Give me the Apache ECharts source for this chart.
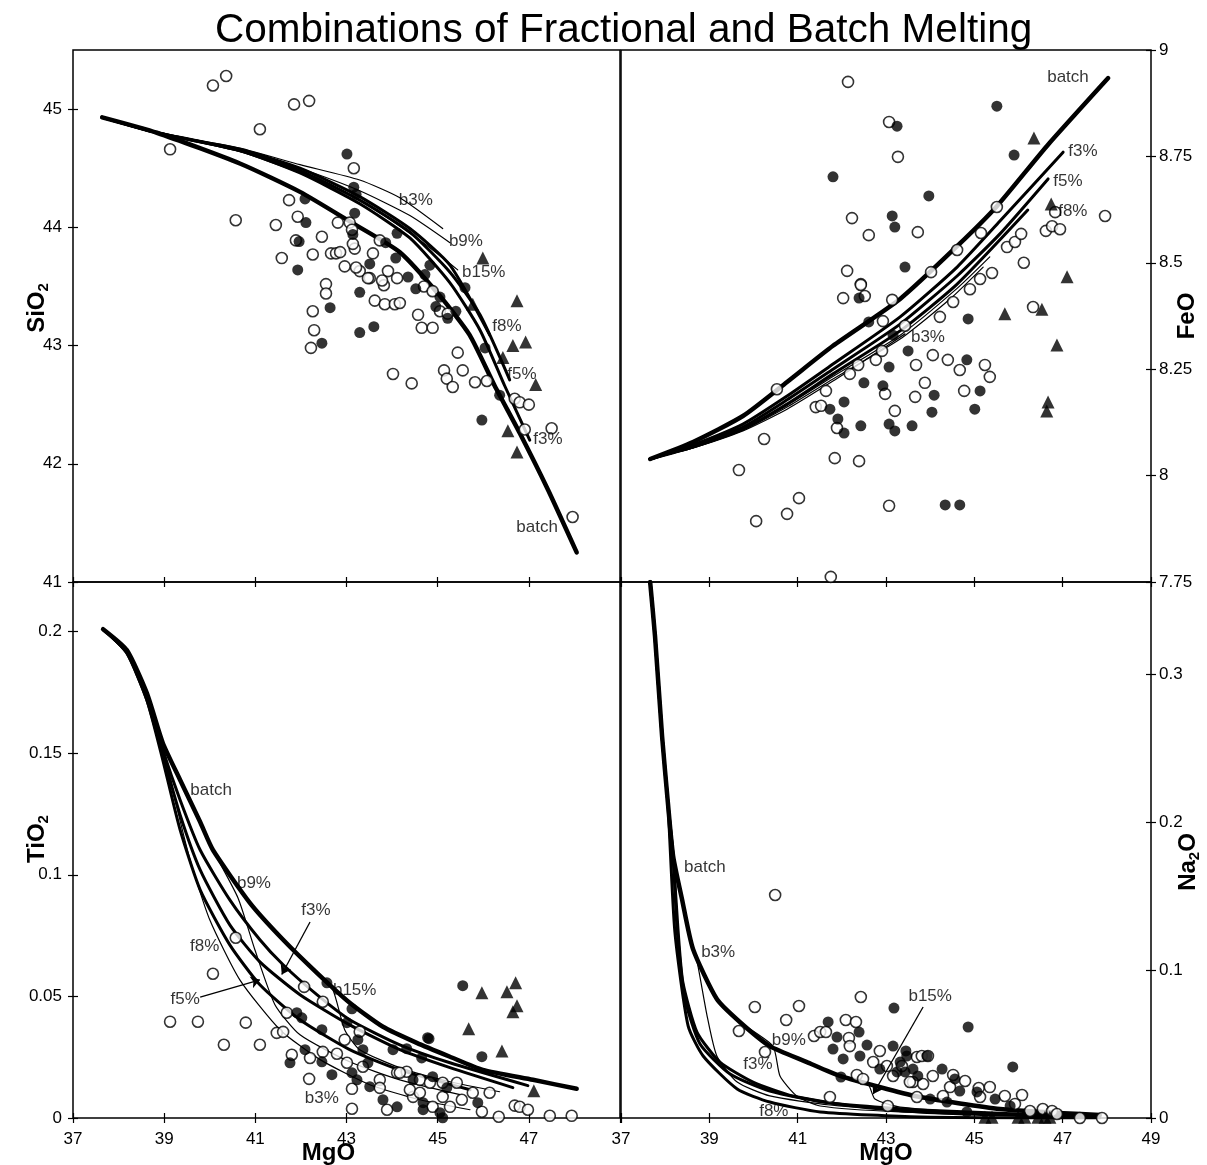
<!DOCTYPE html>
<html>
<head>
<meta charset="utf-8">
<script src="https://cdn.jsdelivr.net/npm/echarts@6/dist/echarts.min.js"></script>
<style>
html,body{margin:0;padding:0;background:#fff;}
#chart{width:1207px;height:1165px;}
</style>
</head>
<body>
<div id="chart"></div>
<script>
// ---------- tick / axis values ----------
const mgoTicks = [37, 39, 41, 43, 45, 47, 49];
const sio2Ticks = [41, 42, 43, 44, 45];
const feoTicks = [7.75, 8, 8.25, 8.5, 8.75, 9];
const tio2Ticks = [0, 0.05, 0.1, 0.15, 0.2];
const na2oTicks = [0, 0.1, 0.2, 0.3];
const sio2Range = [41, 45.5];
const feoRange = [7.75, 9];
const tio2Range = [0, 0.2204];
const na2oRange = [0, 0.3622];

// ---------- SiO2 vs MgO (model curves) ----------
const sio2Batch = [[37.64,44.93],[38.84,44.80],[40.66,44.54],[41.98,44.30],[43.07,44.05],[44.17,43.79],[45.05,43.42],[45.70,43.09],[46.25,42.66],[46.80,42.26],[47.42,41.78],[48.05,41.25]];
const sio2F3 = [[37.64,44.93],[38.84,44.80],[40.66,44.65],[41.98,44.46],[43.29,44.20],[44.39,43.91],[45.27,43.53],[45.93,43.13],[46.47,42.66],[47.02,42.20]];
const sio2F5 = [[37.64,44.93],[38.84,44.80],[40.66,44.65],[41.98,44.48],[43.29,44.23],[44.39,43.96],[45.27,43.62],[45.93,43.26],[46.58,42.71]];
const sio2F8 = [[37.64,44.93],[38.84,44.80],[40.66,44.66],[41.98,44.50],[43.29,44.26],[44.39,43.99],[45.27,43.68],[46.14,43.09]];
const sio2B3 = [[37.64,44.93],[38.84,44.80],[40.66,44.67],[41.98,44.53],[43.29,44.40],[44.17,44.25],[45.11,43.99]];
const sio2B9 = [[37.64,44.93],[38.84,44.80],[40.66,44.66],[41.98,44.50],[43.29,44.31],[44.39,44.10],[45.27,43.87]];
const sio2B15 = [[37.64,44.93],[38.84,44.80],[40.66,44.64],[41.98,44.46],[43.29,44.23],[44.61,43.89],[45.44,43.64]];
// SiO2 samples
const sio2Open = [[40.07,45.20],[40.36,45.28],[41.10,44.83],[41.85,45.04],[42.18,45.07],[39.13,44.66],[40.57,44.06],[41.45,44.02],[43.16,44.50],[41.74,44.23],[41.93,44.09],[41.89,43.89],[41.58,43.74],[42.26,43.77],[42.46,43.92],[42.66,43.78],[42.55,43.52],[42.55,43.44],[42.26,43.29],[42.29,43.13],[42.22,42.98],[42.77,43.78],[42.96,43.67],[43.18,43.82],[43.29,43.63],[43.07,44.04],[43.51,43.57],[43.82,43.51],[43.62,43.38],[43.84,43.35],[44.06,43.35],[44.17,43.36],[44.57,43.26],[44.65,43.15],[44.89,43.15],[45.05,43.29],[45.22,43.27],[44.02,42.76],[44.43,42.68],[45.14,42.79],[45.20,42.72],[45.33,42.65],[45.44,42.94],[45.55,42.79],[45.82,42.69],[46.08,42.70],[46.69,42.55],[46.80,42.52],[47.00,42.50],[46.91,42.29],[47.50,42.30],[47.96,41.55],[43.73,43.89],[44.70,43.50],[44.89,43.46],[42.81,44.04],[43.12,43.98],[43.14,43.86],[42.86,43.79],[43.58,43.78],[43.21,43.66],[43.91,43.63],[44.11,43.57],[43.47,43.57],[43.78,43.55]];
const sio2Filled = [[43.01,44.62],[42.09,44.24],[42.11,44.04],[41.96,43.88],[41.93,43.64],[42.64,43.32],[42.46,43.02],[43.29,43.11],[43.60,43.16],[43.16,44.34],[43.21,44.28],[43.18,44.12],[43.14,43.94],[43.29,43.45],[43.51,43.69],[43.86,43.87],[44.08,43.74],[44.35,43.58],[44.52,43.48],[44.72,43.60],[44.83,43.68],[44.96,43.33],[45.22,43.23],[45.40,43.29],[45.60,43.49],[45.97,42.37],[46.04,42.98],[46.36,42.58],[45.05,43.41],[44.11,43.95]];
const sio2Tri = [[45.99,43.74],[46.74,43.38],[45.77,43.35],[46.65,43.00],[46.93,43.03],[46.43,42.90],[47.15,42.67],[46.54,42.28],[46.74,42.10]];
const sio2Notes = [['b3%',44.52,44.23],['b9%',45.62,43.88],['b15%',46.01,43.62],['f8%',46.52,43.16],['f5%',46.85,42.76],['f3%',47.42,42.21],['batch',47.18,41.46]];

// ---------- FeO vs MgO ----------
const feoBatch = [[37.66,8.039],[38.63,8.079],[39.76,8.140],[40.76,8.220],[41.80,8.305],[43.32,8.415],[44.61,8.539],[45.51,8.633],[46.64,8.774],[48.03,8.934]];
const feoF3 = [[37.66,8.039],[38.63,8.072],[39.76,8.121],[40.76,8.187],[41.80,8.262],[43.32,8.373],[44.61,8.490],[45.58,8.598],[47.01,8.760]];
const feoF5 = [[37.66,8.039],[38.63,8.070],[39.76,8.114],[40.76,8.178],[41.80,8.250],[43.32,8.356],[44.61,8.469],[45.58,8.568],[46.67,8.697]];
const feoF8 = [[37.66,8.039],[38.63,8.067],[39.76,8.109],[40.76,8.168],[41.80,8.239],[43.32,8.340],[44.61,8.450],[46.21,8.624]];
const feoB3 = [[37.66,8.039],[38.63,8.065],[39.76,8.105],[40.76,8.156],[41.80,8.222],[42.64,8.279],[43.43,8.333]];
const feoB9 = [[37.66,8.039],[38.63,8.065],[39.76,8.107],[40.76,8.161],[41.80,8.227],[43.32,8.321],[44.45,8.415],[45.20,8.490]];
const feoB15 = [[37.66,8.039],[38.63,8.066],[39.76,8.110],[40.76,8.165],[41.80,8.233],[43.32,8.330],[44.61,8.440],[45.35,8.514]];
const feoOpen = [[42.14,8.925],[43.07,8.831],[43.27,8.749],[42.23,8.605],[42.61,8.565],[43.72,8.572],[42.12,8.481],[42.43,8.450],[45.51,8.631],[45.15,8.570],[44.61,8.530],[44.02,8.478],[44.52,8.408],[44.90,8.438],[45.13,8.462],[45.40,8.476],[45.74,8.537],[45.92,8.549],[46.06,8.568],[46.12,8.500],[46.62,8.575],[46.76,8.586],[46.94,8.579],[46.83,8.619],[47.96,8.610],[46.33,8.396],[40.53,8.203],[40.24,8.086],[39.67,8.013],[40.06,7.893],[40.76,7.910],[41.03,7.947],[41.84,8.041],[42.39,8.034],[43.07,7.929],[41.75,7.762],[41.41,8.161],[41.53,8.164],[41.64,8.199],[41.89,8.112],[42.18,8.239],[42.37,8.260],[42.77,8.272],[42.91,8.293],[42.98,8.192],[43.20,8.152],[43.68,8.260],[43.66,8.185],[42.43,8.448],[42.03,8.417],[42.52,8.422],[43.14,8.413],[43.43,8.352],[42.93,8.363],[44.06,8.283],[44.40,8.272],[44.67,8.248],[45.24,8.260],[45.35,8.232],[44.77,8.199],[44.22,8.373],[43.88,8.218]];
const feoFilled = [[43.25,8.821],[41.80,8.702],[43.14,8.610],[43.20,8.584],[43.43,8.490],[45.51,8.868],[45.90,8.753],[43.97,8.657],[44.86,8.368],[42.39,8.417],[42.61,8.361],[43.16,8.330],[43.50,8.293],[43.07,8.255],[42.50,8.218],[42.93,8.211],[42.05,8.173],[41.73,8.156],[41.91,8.133],[42.05,8.100],[42.43,8.117],[43.07,8.121],[43.20,8.105],[43.59,8.117],[44.34,7.931],[44.67,7.931],[44.09,8.189],[44.04,8.149],[45.01,8.156],[45.13,8.199],[44.83,8.272]];
const feoTri = [[46.35,8.793],[46.74,8.638],[47.10,8.467],[46.53,8.391],[45.69,8.380],[46.87,8.307],[46.67,8.173],[46.64,8.152]];
const feoNotes = [['batch',47.12,8.937],['f3%',47.46,8.763],['f5%',47.12,8.692],['f8%',47.23,8.622],['b3%',43.95,8.326]];

// ---------- TiO2 vs MgO ----------
const tioBatch = [[37.66,0.2010],[38.18,0.1924],[38.62,0.1747],[38.97,0.1542],[39.35,0.1390],[39.79,0.1217],[40.07,0.1102],[40.88,0.0885],[41.61,0.0733],[42.35,0.0597],[43.07,0.0474],[43.80,0.0375],[44.54,0.0309],[45.27,0.0252],[45.99,0.0198],[47.09,0.0157],[48.05,0.0120]];
const tioF3 = [[37.66,0.2010],[38.18,0.1916],[38.62,0.1731],[38.97,0.1513],[39.35,0.1308],[39.79,0.1102],[40.44,0.0897],[41.10,0.0733],[41.61,0.0630],[42.35,0.0507],[43.07,0.0404],[44.17,0.0301],[45.27,0.0227],[46.98,0.0133]];
const tioF5 = [[37.66,0.2010],[38.18,0.1912],[38.62,0.1719],[38.97,0.1493],[39.35,0.1246],[39.79,0.1020],[40.44,0.0794],[41.10,0.0642],[41.98,0.0507],[43.07,0.0383],[44.17,0.0281],[45.27,0.0207],[46.65,0.0125]];
const tioF8 = [[37.66,0.2010],[38.18,0.1912],[38.62,0.1719],[38.97,0.1472],[39.35,0.1185],[39.79,0.0938],[40.44,0.0712],[41.10,0.0548],[41.98,0.0404],[43.07,0.0281],[44.17,0.0198],[45.71,0.0116]];
const tioB3 = [[37.66,0.2010],[38.18,0.1924],[38.62,0.1747],[38.97,0.1534],[39.24,0.1308],[39.57,0.1061],[40.00,0.0815],[40.66,0.0568],[41.54,0.0363],[42.42,0.0240],[43.51,0.0137],[44.61,0.0075],[45.71,0.0034]];
const tioB9 = [[37.66,0.2010],[38.18,0.1924],[38.62,0.1747],[38.97,0.1542],[39.35,0.1390],[39.79,0.1217],[40.07,0.1102],[40.62,0.0905],[40.99,0.0692],[41.43,0.0466],[41.98,0.0342],[43.07,0.0231],[44.17,0.0157],[45.49,0.0096]];
const tioB15 = [[37.66,0.2010],[38.18,0.1924],[38.62,0.1747],[38.97,0.1542],[39.35,0.1390],[39.79,0.1217],[40.07,0.1102],[40.88,0.0885],[41.61,0.0733],[42.35,0.0597],[42.70,0.0527],[42.96,0.0363],[43.29,0.0281],[44.17,0.0207],[45.27,0.0149],[46.36,0.0108]];
const tioOpen = [[40.57,0.0741],[40.07,0.0593],[39.74,0.0396],[39.13,0.0396],[40.31,0.0301],[40.79,0.0392],[41.10,0.0301],[41.47,0.0350],[41.61,0.0354],[42.07,0.0539],[42.48,0.0478],[41.69,0.0433],[42.18,0.0161],[43.12,0.0038],[43.12,0.0120],[43.29,0.0355],[42.96,0.0322],[41.80,0.0260],[42.20,0.0247],[42.48,0.0272],[42.79,0.0264],[43.01,0.0227],[43.36,0.0211],[43.73,0.0157],[43.73,0.0124],[44.11,0.0186],[44.32,0.0190],[44.46,0.0087],[44.61,0.0157],[45.11,0.0145],[45.11,0.0087],[44.89,0.0046],[43.89,0.0034],[44.17,0.0186],[44.83,0.0145],[45.42,0.0145],[45.53,0.0075],[45.27,0.0046],[45.77,0.0104],[46.14,0.0104],[45.97,0.0026],[46.34,0.0005],[46.69,0.0051],[46.80,0.0046],[46.98,0.0034],[47.46,0.0009],[47.94,0.0009],[44.39,0.0116],[44.61,0.0104]];
const tioFilled = [[42.57,0.0556],[43.12,0.0449],[41.91,0.0433],[42.02,0.0412],[43.01,0.0392],[43.25,0.0322],[42.46,0.0363],[42.09,0.0281],[41.76,0.0227],[42.46,0.0231],[42.68,0.0178],[43.12,0.0186],[43.47,0.0227],[43.23,0.0157],[43.51,0.0129],[43.80,0.0075],[44.11,0.0046],[44.68,0.0063],[45.05,0.0022],[45.11,0.0001],[44.02,0.0281],[44.32,0.0285],[44.65,0.0247],[44.78,0.0330],[44.46,0.0157],[43.36,0.0281],[45.55,0.0544],[44.81,0.0326],[45.97,0.0252],[44.89,0.0170],[45.20,0.0124],[45.88,0.0063],[44.68,0.0034]];
const tioTri = [[45.97,0.0515],[46.52,0.0519],[46.71,0.0556],[46.65,0.0437],[46.74,0.0462],[45.68,0.0367],[46.41,0.0276],[47.11,0.0112]];
const tioNotes = [['batch',40.03,0.1349],['b9%',40.97,0.0963],['f3%',42.33,0.0856],['f8%',39.89,0.0704],['f5%',39.46,0.0486],['b15%',43.18,0.0523],['b3%',42.46,0.0083]];
const tioArrows = [[[42.20,0.0806],[41.58,0.0590]],[[39.79,0.0497],[41.10,0.0568]]];

// ---------- Na2O vs MgO ----------
const naBatch = [[37.66,0.3622],[37.77,0.3257],[37.93,0.2581],[38.06,0.2135],[38.18,0.1770],[38.38,0.1480],[38.63,0.1142],[39.17,0.0804],[39.69,0.0649],[40.37,0.0486],[41.21,0.0378],[41.96,0.0284],[43.02,0.0196],[43.77,0.0142],[45.58,0.0061],[47.84,0.0020]];
const naF3 = [[37.66,0.3622],[37.77,0.3257],[37.93,0.2581],[38.06,0.2135],[38.18,0.1770],[38.29,0.1277],[38.40,0.0919],[38.72,0.0581],[39.24,0.0378],[39.99,0.0243],[40.89,0.0149],[42.25,0.0081],[43.77,0.0041],[45.58,0.0020],[47.84,0.0007]];
const naF5 = [[37.66,0.3622],[37.77,0.3257],[37.93,0.2581],[38.06,0.2135],[38.18,0.1770],[38.27,0.1277],[38.45,0.0804],[38.79,0.0500],[39.47,0.0297],[40.37,0.0182],[41.73,0.0101],[43.77,0.0054],[47.84,0.0007]];
const naF8 = [[37.66,0.3622],[37.77,0.3257],[37.93,0.2581],[38.06,0.2135],[38.22,0.1257],[38.52,0.0622],[38.86,0.0419],[39.63,0.0196],[40.37,0.0108],[41.51,0.0041],[43.77,0.0007],[47.84,0.0000]];
const naB3 = [[37.66,0.3622],[37.77,0.3257],[37.93,0.2581],[38.06,0.2135],[38.18,0.1770],[38.38,0.1480],[38.63,0.1142],[38.72,0.1061],[38.95,0.0689],[39.17,0.0419],[39.63,0.0243],[40.37,0.0149],[41.73,0.0088],[43.77,0.0047],[46.71,0.0020]];
const naB9 = [[37.66,0.3622],[37.77,0.3257],[37.93,0.2581],[38.06,0.2135],[38.18,0.1770],[38.38,0.1480],[38.63,0.1142],[39.17,0.0804],[39.69,0.0649],[40.44,0.0486],[40.60,0.0284],[40.98,0.0149],[41.51,0.0081],[43.32,0.0041],[46.71,0.0014]];
const naB15 = [[37.66,0.3622],[37.77,0.3257],[37.93,0.2581],[38.06,0.2135],[38.18,0.1770],[38.38,0.1480],[38.63,0.1142],[39.17,0.0804],[39.69,0.0649],[40.37,0.0486],[41.21,0.0378],[41.96,0.0284],[42.59,0.0230],[42.75,0.0128],[43.32,0.0074],[45.58,0.0027],[47.39,0.0014]];
const naOpen = [[40.49,0.1507],[40.03,0.0750],[39.67,0.0588],[40.26,0.0446],[40.74,0.0662],[41.03,0.0757],[41.37,0.0554],[41.51,0.0581],[41.64,0.0581],[42.09,0.0662],[42.32,0.0649],[42.43,0.0818],[42.16,0.0541],[42.18,0.0486],[42.34,0.0291],[42.48,0.0264],[41.73,0.0142],[43.04,0.0081],[42.86,0.0453],[42.71,0.0378],[43.02,0.0351],[43.16,0.0284],[43.61,0.0243],[43.70,0.0412],[43.36,0.0351],[43.81,0.0419],[43.95,0.0419],[44.06,0.0284],[44.52,0.0291],[44.45,0.0209],[44.79,0.0250],[45.10,0.0203],[45.35,0.0209],[45.13,0.0142],[45.69,0.0149],[46.08,0.0155],[45.92,0.0095],[46.26,0.0047],[46.55,0.0061],[46.76,0.0047],[46.87,0.0027],[47.39,0.0000],[47.89,0.0000],[43.70,0.0142],[44.29,0.0149],[43.54,0.0243],[43.84,0.0230]];
const naFilled = [[41.69,0.0649],[41.89,0.0547],[41.80,0.0466],[42.03,0.0399],[42.39,0.0581],[42.57,0.0493],[42.41,0.0419],[43.18,0.0743],[43.16,0.0486],[43.45,0.0453],[42.86,0.0331],[43.25,0.0311],[43.43,0.0311],[43.61,0.0331],[43.47,0.0419],[41.98,0.0277],[44.86,0.0615],[45.87,0.0345],[43.93,0.0419],[44.27,0.0331],[44.56,0.0264],[44.67,0.0182],[45.06,0.0176],[45.47,0.0128],[45.81,0.0081],[43.32,0.0378],[43.72,0.0284],[44.00,0.0128],[44.38,0.0108],[44.83,0.0041]];
const naTri = [[45.24,0.0005],[45.40,0.0005],[45.99,0.0005],[46.14,0.0005],[46.44,0.0005],[46.60,0.0005],[46.71,0.0005]];
const naNotes = [['batch',38.90,0.1696],['b3%',39.20,0.1122],['b9%',40.80,0.0527],['f3%',40.10,0.0365],['f8%',40.46,0.0047],['b15%',44.00,0.0824]];
const naArrows = [[[43.84,0.0750],[42.71,0.0162]]];

// ---------- build chart ----------
const FONT = '"Liberation Sans", Arial, Helvetica, sans-serif';
const BLACK = '#000';

const grids = [
  {left:73, top:50, width:547, height:532},
  {left:621, top:50, width:530, height:532},
  {left:73, top:582, width:547, height:536},
  {left:621, top:582, width:530, height:536}
].map(g => Object.assign({show:true, borderColor:BLACK, borderWidth:1.5, backgroundColor:'transparent',
  containLabel:false, outerBoundsMode:'none'}, g));

const richStyles = {
  n:{fontSize:24, fontWeight:'bold', fontFamily:FONT, color:BLACK},
  s:{fontSize:15, fontWeight:'bold', fontFamily:FONT, color:BLACK, padding:[12,0,0,0]}
};
const inList = (list, v) => list.some(t => Math.abs(t - v) < 1e-9);
const trim = v => String(parseFloat(v.toFixed(4)));

function xAxisPair(gi, showLabels, hideMax, name, namePad){
  const base = {
    type:'value', gridIndex:gi, position:'bottom', min:mgoTicks[0], max:mgoTicks[mgoTicks.length-1], interval:2,
    axisLine:{show:false}, splitLine:{show:false}
  };
  const outer = Object.assign({}, base, {
    axisTick:{show:true, inside:false, length:5, lineStyle:{color:BLACK, width:1.2}},
    axisLabel:{show:showLabels, color:BLACK, fontSize:17, fontFamily:FONT, margin:13,
      formatter: v => (hideMax && v === mgoTicks[mgoTicks.length-1]) ? '' : String(v)},
    name: name || '', nameLocation:'middle', nameGap:23, nameMoveOverlap:false,
    nameTextStyle:{fontSize:24, fontWeight:'bold', fontFamily:FONT, color:BLACK, padding:namePad || 0}
  });
  const inner = Object.assign({}, base, {
    axisTick:{show:true, inside:true, length:5, lineStyle:{color:BLACK, width:1.2}},
    axisLabel:{show:false}
  });
  return [outer, inner];
}
function yAxisPair(gi, pos, range, ticks, name, namePad){
  const base = {
    type:'value', gridIndex:gi, position:pos, min:range[0], max:range[1],
    axisLine:{show:false}, splitLine:{show:false}
  };
  const outer = Object.assign({}, base, {
    axisTick:{show:true, inside:false, length:5, customValues:ticks, lineStyle:{color:BLACK, width:1.2}},
    axisLabel:{show:true, color:BLACK, fontSize:17, fontFamily:FONT, margin:pos === 'left' ? 11 : 8, customValues:ticks,
      formatter: v => inList(ticks, v) ? trim(v) : ''},
    name:name, nameLocation:'middle', nameGap:pos === 'left' ? 22 : 24, nameRotate:90, nameMoveOverlap:false,
    nameTextStyle:{rich:richStyles, padding:namePad || 0}
  });
  const inner = Object.assign({}, base, {
    axisTick:{show:true, inside:true, length:5, customValues:ticks, lineStyle:{color:BLACK, width:1.2}},
    axisLabel:{show:false}
  });
  return [outer, inner];
}

const xAxes = [].concat(
  xAxisPair(0, false, false),
  xAxisPair(1, false, false),
  xAxisPair(2, true, true, 'MgO', [0, 36, 0, 0]),
  xAxisPair(3, true, false, 'MgO')
);
const yAxes = [].concat(
  yAxisPair(0, 'left', sio2Range, sio2Ticks, '{n|SiO}{s|2}', [0, 0, 0, 16]),
  yAxisPair(1, 'right', feoRange, feoTicks, '{n|FeO}'),
  yAxisPair(2, 'left', tio2Range, tio2Ticks, '{n|TiO}{s|2}', [0, 0, 0, 22]),
  yAxisPair(3, 'right', na2oRange, na2oTicks, '{n|Na}{s|2}{n|O}', [0, 24, 0, 0])
);

const series = [];
function curve(gi, data, width){
  series.push({type:'line', xAxisIndex:2*gi, yAxisIndex:2*gi, data:data, symbol:'none',
    smooth:0.2, silent:true, z:2,
    lineStyle:{color:BLACK, width:width, cap:'round', join:'round'}});
}
function points(gi, data, kind){
  const open = kind === 'open';
  series.push({type:'scatter', xAxisIndex:2*gi, yAxisIndex:2*gi, data:data, clip:false, silent:true,
    symbol: kind === 'tri' ? 'triangle' : 'circle',
    symbolSize: kind === 'tri' ? 13 : 11,
    z: open ? 3 : 4,
    itemStyle: open ? {color:'#fff', borderColor:BLACK, borderWidth:1.6} : {color:BLACK, borderWidth:0}});
}
function notes(gi, list){
  series.push({type:'scatter', xAxisIndex:2*gi, yAxisIndex:2*gi, silent:true, z:6, symbolSize:1,
    itemStyle:{color:'transparent'},
    label:{show:true, position:'inside', color:BLACK, fontSize:17, fontFamily:FONT, formatter:p => p.name},
    data:list.map(n => ({name:n[0], value:[n[1], n[2]]}))});
}
function arrows(gi, list){
  series.push({type:'lines', coordinateSystem:'cartesian2d', xAxisIndex:2*gi, yAxisIndex:2*gi, silent:true, z:5,
    symbol:['none','arrow'], symbolSize:9,
    lineStyle:{color:BLACK, width:1.3, opacity:1},
    data:list.map(c => ({coords:c}))});
}

// panel 0: SiO2
curve(0, sio2B3, 1.2); curve(0, sio2B9, 1.2); curve(0, sio2B15, 1.2);
curve(0, sio2F3, 3); curve(0, sio2F5, 3); curve(0, sio2F8, 3); curve(0, sio2Batch, 4.5);
points(0, sio2Open, 'open'); points(0, sio2Filled, 'filled'); points(0, sio2Tri, 'tri'); notes(0, sio2Notes);
// panel 1: FeO
curve(1, feoB3, 1.2); curve(1, feoB9, 1.2); curve(1, feoB15, 1.2);
curve(1, feoF3, 3); curve(1, feoF5, 3); curve(1, feoF8, 3); curve(1, feoBatch, 4.5);
points(1, feoOpen, 'open'); points(1, feoFilled, 'filled'); points(1, feoTri, 'tri'); notes(1, feoNotes);
// panel 2: TiO2
curve(2, tioB3, 1.2); curve(2, tioB9, 1.2); curve(2, tioB15, 1.2);
curve(2, tioF3, 3); curve(2, tioF5, 3); curve(2, tioF8, 3); curve(2, tioBatch, 4.5);
points(2, tioOpen, 'open'); points(2, tioFilled, 'filled'); points(2, tioTri, 'tri'); notes(2, tioNotes); arrows(2, tioArrows);
// panel 3: Na2O
curve(3, naB3, 1.2); curve(3, naB9, 1.2); curve(3, naB15, 1.2);
curve(3, naF3, 3); curve(3, naF5, 3); curve(3, naF8, 3); curve(3, naBatch, 4.5);
points(3, naOpen, 'open'); points(3, naFilled, 'filled'); points(3, naTri, 'tri'); notes(3, naNotes); arrows(3, naArrows);

const chart = echarts.init(document.getElementById('chart'), null, {renderer:'canvas'});
chart.setOption({
  animation:false,
  backgroundColor:'#fff',
  title:{text:'Combinations of Fractional and Batch Melting', left:215, top:10, padding:0,
    textStyle:{fontSize:40.5, fontWeight:'normal', fontFamily:FONT, color:BLACK}},
  grid:grids,
  xAxis:xAxes,
  yAxis:yAxes,
  series:series
});
</script>
</body>
</html>
